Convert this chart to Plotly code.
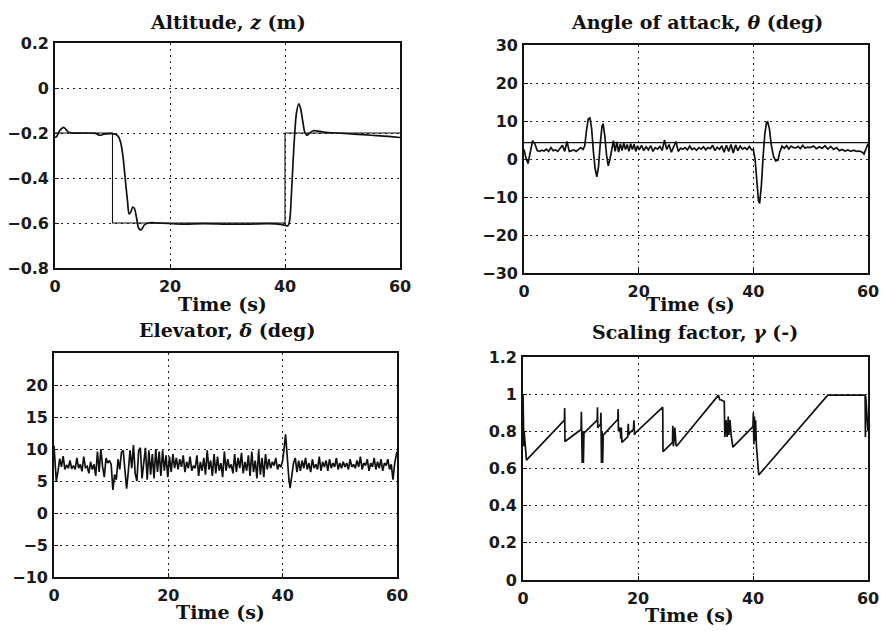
import plotly.graph_objects as go

# ---------------- data ----------------
# Altitude (m)
alt_ref_t = [0, 10, 10, 40, 40, 60]
alt_ref_z = [-0.2, -0.2, -0.6, -0.6, -0.2, -0.2]
alt_t = [0, 0.3, 0.8, 1.5, 2.3, 3, 5, 7, 7.8, 8.5, 9.5, 10.5, 11, 11.4, 11.8, 12.2,
         12.6, 12.9, 13.2, 13.5, 13.8, 14.2, 14.6, 15.0, 15.5, 16.2, 18, 22, 26, 30,
         34, 37, 39.5, 40.5, 40.8, 41.1, 41.4, 41.7, 42.0, 42.4, 42.7, 43.1, 43.5,
         43.9, 44.3, 44.9, 45.8, 47, 49, 52, 55, 58, 60]
alt_z = [-0.22, -0.215, -0.19, -0.175, -0.195, -0.2, -0.2, -0.202, -0.21, -0.205,
         -0.203, -0.205, -0.215, -0.24, -0.3, -0.4, -0.5, -0.56, -0.55, -0.53, -0.535,
         -0.58, -0.625, -0.63, -0.61, -0.6, -0.6, -0.605, -0.603, -0.605, -0.605,
         -0.603, -0.607, -0.612, -0.59, -0.48, -0.33, -0.2, -0.11, -0.07, -0.09, -0.15,
         -0.2, -0.21, -0.2, -0.19, -0.192, -0.197, -0.2, -0.205, -0.21, -0.215, -0.22]

# Angle of attack (deg)
aoa_ref_t = [0, 60]
aoa_ref = [4.3, 4.3]
aoa_t = [0, 0.3, 0.7, 1.1, 1.5, 1.9, 2.3, 2.7, 3.1, 3.5, 3.9, 4.3, 4.7, 5.1, 5.5, 5.9,
         6.3, 6.7, 7.1, 7.5, 7.9, 8.3, 8.7, 9.1, 9.5, 9.9, 10.3, 10.6, 10.9, 11.2, 11.5,
         11.8, 12.1, 12.4, 12.7, 13.0, 13.3, 13.6, 13.8, 14.1, 14.4, 14.7, 15.0, 15.3,
         15.6, 15.9, 16.2, 16.5, 16.8, 17.1, 17.4, 17.7, 18.0, 18.3, 18.6, 18.9, 19.2,
         19.5, 19.8, 20.1, 20.5, 20.9, 21.3, 21.7, 22.1, 22.5, 22.9, 23.3, 23.7, 24.1,
         24.5, 24.9, 25.3, 25.7, 26.1, 26.5, 26.9, 27.3, 27.7, 28.1, 28.5, 28.9, 29.3,
         29.7, 30.1, 30.5, 30.9, 31.3, 31.7, 32.1, 32.5, 32.9, 33.3, 33.7, 34.1, 34.5,
         34.9, 35.3, 35.7, 36.1, 36.5, 36.9, 37.3, 37.7, 38.1, 38.5, 38.9, 39.3, 39.7,
         40.0, 40.3, 40.6, 40.9, 41.1, 41.4, 41.7, 42.0, 42.3, 42.5, 42.8, 43.1, 43.5,
         43.9, 44.3, 44.6, 45.0, 45.4, 45.8, 46.2, 46.6, 47.0, 47.4, 47.8, 48.2, 48.6,
         49.0, 49.5, 50.0, 50.5, 51.0, 51.5, 52.0, 52.5, 53.0, 53.5, 54.0, 54.5, 55.0,
         55.5, 56.0, 56.5, 57.0, 57.5, 58.0, 58.5, 59.0, 59.3, 59.6, 60]
aoa = [2.5, 0.5, -1.2, 1.5, 4.8, 4.0, 2.2, 2.0, 2.3, 2.1, 2.6, 2.0, 3.0, 2.2, 2.4, 2.0,
       2.8, 3.6, 2.0, 4.6, 2.0, 2.2, 2.4, 2.0, 2.6, 3.0, 2.5, 3.5, 7.5, 10.5, 10.8,
       8.0, 2.0, -2.5, -4.7, -2.0, 4.0, 8.5, 9.3, 6.0, 1.0, -1.8, 0.0, 3.0,
       4.8, 2.0, 4.5, 1.8, 4.0, 2.2, 4.2, 2.5, 3.8, 2.0, 4.0, 2.5, 3.9,
       2.0, 3.5, 2.4, 3.6, 2.2, 3.2, 2.4, 3.5, 2.0, 3.0, 2.6, 3.3, 2.2,
       5.0, 2.5, 3.8, 1.8, 3.2, 4.6, 2.0, 2.8, 2.6, 3.0, 2.4, 3.4, 2.5,
       2.9, 2.3, 3.0, 2.6, 3.2, 2.4, 3.0, 2.7, 3.6, 2.2, 3.1, 2.5, 3.5,
       1.8, 3.6, 2.0, 3.8, 1.6, 3.7, 2.2, 3.4, 2.6, 3.0, 2.5, 3.3, 2.4,
       2.5, 0.0, -6.0, -11.0, -11.7, -7.0, 0.5, 6.5, 9.6, 9.8, 8.0, 4.0, 0.8,
       -0.5, -0.3, 1.8, 3.4, 2.8, 3.5, 2.6, 3.4, 3.0, 2.9, 3.3, 2.7, 3.6,
       2.9, 3.1, 3.0, 3.4, 2.7, 3.2, 2.8, 3.5, 2.6, 3.3, 2.5, 3.0, 2.2,
       2.5, 2.1, 2.4, 2.0, 2.3, 2.0, 2.1, 1.8, 1.3, 2.5, 4.0]

# Elevator (deg)
elev_t = [0.0, 0.2, 0.4, 0.7, 1.0, 1.3, 1.6, 1.9, 2.2, 2.5, 2.8, 3.1, 3.4, 3.7, 4.0, 4.3,
          4.6, 4.9, 5.2, 5.5, 5.8, 6.1, 6.4, 6.7, 7.0, 7.3, 7.6, 7.9, 8.2, 8.5, 8.8, 9.1,
          9.4, 9.7, 10.0, 10.3, 10.6, 10.9, 11.2, 11.5, 11.8, 12.1, 12.4, 12.7, 13.0,
          13.3, 13.6, 13.9, 14.2, 14.5, 14.8, 15.1, 15.4, 15.7, 16.0, 16.3, 16.6, 16.9,
          17.2, 17.5, 17.8, 18.1, 18.4, 18.7, 19.0, 19.3, 19.6, 19.9, 20.2, 20.5, 20.8,
          21.1, 21.4, 21.7, 22.0, 22.3, 22.6, 22.9, 23.2, 23.5, 23.8, 24.1, 24.4, 24.7,
          25.0, 25.3, 25.6, 25.9, 26.2, 26.5, 26.8, 27.1, 27.4, 27.7, 28.0, 28.3, 28.6,
          28.9, 29.2, 29.5, 29.8, 30.1, 30.4, 30.7, 31.0, 31.3, 31.6, 31.9, 32.2, 32.5,
          32.8, 33.1, 33.4, 33.7, 34.0, 34.3, 34.6, 34.9, 35.2, 35.5, 35.8, 36.1, 36.4,
          36.7, 37.0, 37.3, 37.6, 37.9, 38.2, 38.5, 38.8, 39.1, 39.4, 39.7, 40.0, 40.3,
          40.5, 40.7, 40.9, 41.1, 41.3, 41.6, 41.9, 42.2, 42.5, 42.8, 43.1, 43.4, 43.7,
          44.0, 44.3, 44.6, 44.9, 45.2, 45.5, 45.8, 46.1, 46.4, 46.7, 47.0, 47.3, 47.6,
          47.9, 48.2, 48.5, 48.8, 49.1, 49.4, 49.7, 50.0, 50.3, 50.6, 50.9, 51.2, 51.5,
          51.8, 52.1, 52.4, 52.7, 53.0, 53.3, 53.6, 53.9, 54.2, 54.5, 54.8, 55.1, 55.4,
          55.7, 56.0, 56.3, 56.6, 56.9, 57.2, 57.5, 57.8, 58.1, 58.4, 58.7, 59.0, 59.3,
          59.6, 60.0]
elev = [10.5, 8.0, 5.0, 6.5, 8.5, 7.2, 8.9, 6.8, 7.5, 7.0, 8.2, 6.9, 7.4, 6.8, 8.6, 7.0,
        7.6, 6.5, 8.8, 7.1, 7.3, 6.2, 8.0, 6.8, 7.6, 5.8, 9.6, 6.4, 10.0, 7.2, 5.6, 8.6,
        7.8, 8.2, 7.6, 3.6, 6.0, 5.2, 8.4, 6.8, 9.5, 9.8, 6.0, 3.8, 6.5,
        9.8, 7.0, 10.6, 6.2, 5.0, 9.6, 10.2, 5.4, 7.6, 10.2, 5.2, 9.8, 6.0,
        9.2, 5.4, 10.0, 6.4, 9.6, 5.8, 9.8, 6.6, 9.0, 5.6, 8.8, 6.4, 9.2,
        7.0, 8.6, 6.8, 8.4, 7.2, 9.0, 6.4, 8.0, 7.0, 8.8, 6.6, 7.4, 7.0,
        9.0, 5.8, 8.0, 6.6, 8.6, 6.0, 9.8, 6.8, 8.2, 5.8, 9.2, 6.2, 8.8,
        6.6, 7.8, 5.6, 9.6, 6.6, 8.4, 7.0, 7.6, 6.2, 9.2, 6.4, 8.6, 7.0,
        9.4, 6.2, 8.0, 6.6, 9.0, 5.8, 9.6, 6.4, 8.2, 5.4, 9.8, 6.0, 8.6,
        5.6, 9.2, 6.8, 8.4, 7.0, 8.0, 7.4, 8.6, 6.8, 7.6, 7.2, 8.2, 10.5,
        12.3, 10.0, 7.0, 5.2, 3.9, 5.6, 7.8, 8.6, 6.4, 8.2, 6.6, 8.2, 7.0,
        8.6, 6.8, 7.8, 6.4, 8.4, 7.0, 7.6, 6.8, 8.8, 6.6, 8.0, 7.2, 8.2,
        6.6, 8.4, 7.0, 7.8, 7.2, 8.6, 6.8, 7.8, 7.0, 8.0, 7.2, 7.8, 6.8,
        8.4, 7.2, 7.6, 7.0, 8.2, 7.2, 8.8, 6.8, 7.8, 7.4, 8.4, 6.6, 7.8,
        7.2, 8.6, 6.8, 8.0, 7.0, 8.4, 6.6, 7.8, 7.4, 8.4, 6.8, 7.6, 5.2,
        7.8, 9.6]

# Scaling factor (-)
gam_t = [0, 0.05, 0.1, 0.15, 0.2, 0.6, 7.2, 7.25, 7.3, 10.1, 10.15, 10.2, 10.3, 10.4,
         10.5, 10.6, 12.9, 12.95, 13.0, 13.5, 13.55, 13.65, 13.75, 13.85, 13.95, 16.5,
         16.55, 16.6, 16.9, 17.0, 17.1, 17.2, 18.2, 18.3, 18.4, 18.5, 19.2, 19.3, 19.4,
         19.5, 24.3, 24.35, 24.5, 26.0, 26.05, 26.15, 26.3, 26.4, 26.6, 26.7, 34.0,
         34.2, 34.4, 35.0, 35.1, 35.3, 35.5, 35.7, 35.8, 36.0, 36.2, 36.5, 40.0, 40.05,
         40.15, 40.25, 40.35, 40.45, 40.6, 41.0, 53.0, 59.5, 59.55, 59.6, 60]
gam = [1.0, 0.78, 1.0, 0.72, 0.8, 0.645, 0.86, 0.925, 0.745, 0.81, 0.905, 0.8, 0.63, 0.8,
       0.63, 0.79, 0.86, 0.93, 0.82, 0.84, 0.9, 0.63, 0.8, 0.63, 0.78, 0.865,
       0.92, 0.8, 0.82, 0.76, 0.82, 0.74, 0.77, 0.84, 0.78, 0.79, 0.81, 0.86, 0.78,
       0.79, 0.93, 0.69, 0.695, 0.74, 0.83, 0.72, 0.76, 0.82, 0.73, 0.72, 0.995,
       0.97, 0.97, 0.96, 0.77, 0.86, 0.77, 0.88, 0.78, 0.86, 0.78, 0.715, 0.825, 0.9,
       0.73, 0.88, 0.75, 0.86, 0.72, 0.565, 0.995, 0.995, 0.77, 0.99, 0.8]

x_ticks = [0, 20, 40, 60]
alt_ticks = [0.2, 0, -0.2, -0.4, -0.6, -0.8]
aoa_ticks = [30, 20, 10, 0, -10, -20, -30]
elev_ticks = [20, 15, 10, 5, 0, -5, -10]
gam_ticks = [1.2, 1, 0.8, 0.6, 0.4, 0.2, 0]

titles = ["Altitude, <i>z</i> (m)", "Angle of attack, <i>θ</i> (deg)",
          "Elevator, <i>δ</i> (deg)", "Scaling factor, <i>γ</i> (-)"]
xlabel = "Time (s)"

# ---------------- figure ----------------
W, H = 884, 631


def px(x):
    return x / W


def py(y):
    return 1 - y / H


LINE = dict(color="#111111", width=1.7)
REF = dict(color="#111111", width=1.1)

fig = go.Figure()
fig.add_trace(go.Scatter(x=alt_ref_t, y=alt_ref_z, mode="lines", line=REF, xaxis="x", yaxis="y"))
fig.add_trace(go.Scatter(x=alt_t, y=alt_z, mode="lines", line=LINE, line_shape="spline", xaxis="x", yaxis="y"))
fig.add_trace(go.Scatter(x=aoa_ref_t, y=aoa_ref, mode="lines", line=REF, xaxis="x2", yaxis="y2"))
fig.add_trace(go.Scatter(x=aoa_t, y=aoa, mode="lines", line=LINE, xaxis="x2", yaxis="y2"))
fig.add_trace(go.Scatter(x=elev_t, y=elev, mode="lines", line=LINE, xaxis="x3", yaxis="y3"))
fig.add_trace(go.Scatter(x=gam_t, y=gam, mode="lines", line=LINE, xaxis="x4", yaxis="y4"))

# pixel boxes in the window (left, right, top, bottom)
boxes = [(55, 400, 43, 268), (524, 868, 45, 273), (54, 397, 353, 577), (523, 868, 357, 580)]
yranges = [[-0.8, 0.2], [-30, 30], [-10, 25], [0, 1.2]]
yticks = [alt_ticks, aoa_ticks, elev_ticks, gam_ticks]
ytext = [["0.2", "0", "−0.2", "−0.4", "−0.6", "−0.8"],
         ["30", "20", "10", "0", "−10", "−20", "−30"],
         ["20", "15", "10", "5", "0", "−5", "−10"],
         ["1.2", "1", "0.8", "0.6", "0.4", "0.2", "0"]]
TICKFONT = dict(family="DejaVu Sans", size=16, color="#1a1a1a", weight="bold")
axis_common = dict(showline=True, mirror=True, linecolor="#111111", linewidth=1.8,
                   showgrid=True, gridcolor="#222222", gridwidth=1, griddash="2px,4px",
                   zeroline=False, ticks="inside", ticklen=4, tickcolor="#111111",
                   tickfont=TICKFONT, fixedrange=True, automargin=False,
                   ticklabeloverflow="allow")
layout = {}
for i, (l, r, t, b) in enumerate(boxes):
    sfx = "" if i == 0 else str(i + 1)
    layout["xaxis" + sfx] = dict(axis_common, domain=[px(l), px(r)], range=[0, 60],
                                 tickvals=x_ticks, anchor="y" + sfx, ticklabelstandoff=3)
    layout["yaxis" + sfx] = dict(axis_common, domain=[py(b), py(t)], range=yranges[i],
                                 tickvals=yticks[i], ticktext=ytext[i], anchor="x" + sfx,
                                 ticklabelstandoff=1)

TFONT = dict(family="DejaVu Serif", size=19, color="#111111", weight="bold")
ann = []
title_pos = [(228, 22), (697, 22), (227, 330), (695, 332)]
time_pos = [(222, 304), (690, 304), (220, 612), (689, 615)]
for (x, y), txt in zip(title_pos, titles):
    ann.append(dict(x=px(x), y=py(y), xref="paper", yref="paper", text=txt,
                    showarrow=False, font=TFONT, xanchor="center", yanchor="middle"))
for (x, y) in time_pos:
    ann.append(dict(x=px(x), y=py(y), xref="paper", yref="paper", text=xlabel,
                    showarrow=False, font=TFONT, xanchor="center", yanchor="middle"))

fig.update_layout(width=W, height=H, margin=dict(l=0, r=0, t=0, b=0, autoexpand=False),
                  paper_bgcolor="white", plot_bgcolor="white", showlegend=False,
                  hovermode=False, annotations=ann, **layout)
# remove the browser's default page margin so the figure fills the window exactly
fig.write_html("out.html", config={"displayModeBar": False, "staticPlot": True},
               post_script="document.body.style.margin='0px';"
                           "document.documentElement.style.overflow='hidden';")
